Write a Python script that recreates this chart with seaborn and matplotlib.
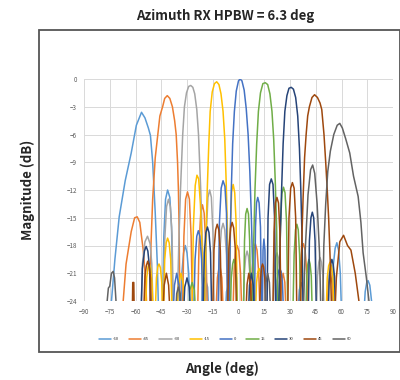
import pandas as pd
import seaborn as sns
import matplotlib.pyplot as plt
from matplotlib.patches import Rectangle

# beam steering angles and Excel-like colours
beams = ["-60", "-45", "-30", "-15", "0", "15", "30", "45", "60"]
colors = ["#5B9BD5", "#ED7D31", "#A5A5A5", "#FFC000", "#4472C4",
          "#70AD47", "#264478", "#9E480E", "#636363"]

ang_m60 = [-76, -74, -72, -69.5, -66, -62.5, -59.5, -56.5, -54.5, -52.5, -51.3, -50, -48.5, -47.3, -46.3,
           -44.5, -43.5, -42.5, -41.3, -40, -39, -38,
           -34, -33, -32, -31, -30, -29, -28,
           -22, -21, -19.5, -18, -17,
           -8, -7, -6, -5, -4,
           54, 55.3, 56.3, 57.3, 58.3, 59.3, 60.3,
           72.5, 73.8, 74.7, 75.5, 76.5, 77.5, 78.5]
db_m60 = [-30, -24, -19.5, -14.9, -11, -8, -5, -3.6, -4.2, -5.3, -6.1, -9, -14.5, -20, -27,
          -27, -17, -13, -12, -12.8, -16, -27,
          -27, -21, -18.8, -18, -18.8, -21, -27,
          -27, -22.5, -21.5, -22.5, -27,
          -27, -23, -22.3, -23, -27,
          -27, -20, -18.3, -17.7, -18.5, -21, -27,
          -27, -23, -22, -21.8, -22.3, -24, -28]

ang_m45 = [-68, -65.5, -62.5, -60.5, -59, -57.5, -55.5, -54, -53,
           -52, -51, -50, -48.5, -47, -45.8, -44.2, -43, -41.5, -40, -38.5, -37.2, -36.3, -35.5, -35, -34.6, -34,
           -32.8, -31.8, -30.8, -29.7, -28.6, -27.6, -26.6,
           -24, -23, -22, -21, -20, -19, -18,
           -13.5, -12.3, -11, -9.7, -8.5,
           -3.5, -2.5, -1.6, -0.8, 0.2, 1.2, 2.2,
           7, 8, 9, 9.8, 10.8, 11.8, 12.8,
           24, 25, 26, 27, 28,
           35, 36, 37, 37.8, 38.8, 39.8, 40.8,
           51, 52.3, 53.5, 54.7, 56]
db_m45 = [-26, -20, -16.5, -15, -14.9, -15.5, -18.5, -22, -27,
          -27, -18, -13, -8.5, -6, -4, -3, -2.1, -1.8, -2.1, -3, -4.5, -6, -9, -12, -16, -27,
          -27, -17, -13, -12.2, -13, -17, -27,
          -27, -18, -14.5, -13.6, -14.5, -18, -27,
          -27, -21.5, -20, -21.5, -27,
          -27, -20.5, -18.5, -18, -18.6, -21, -27,
          -27, -20.5, -18.3, -17.8, -18.5, -21, -27,
          -27, -22, -21, -22, -27,
          -27, -20.5, -18.3, -17.8, -18.5, -21, -27,
          -27, -22.3, -21, -22.3, -27]

ang_m30 = [-57, -56, -54.5, -53, -51.5, -50.5, -49.5,
           -44, -43, -41.9, -40.8, -39.7, -38.7, -37.8,
           -36, -34.8, -33.8, -32.5, -31.5, -30.3, -29, -27.8, -26.6, -25.5, -24.3, -23.3, -22, -21, -20,
           -19.5, -18.7, -17.8, -16.8, -15.8, -14.9, -14,
           -12, -11, -10, -9, -8, -7, -6,
           2.5, 3.4, 4.2, 5, 5.8, 6.6, 7.5,
           19.8, 20.7, 21.6, 22.4, 23.2, 24.1, 25,
           45, 46, 46.8, 47.5, 48.3, 49.2, 50.2]
db_m30 = [-27, -20, -17.6, -17, -17.8, -20, -27,
          -27, -17.5, -13.8, -13, -13.8, -17, -27,
          -27, -18, -12, -6, -3, -1.5, -0.8, -0.7, -0.9, -1.6, -3.3, -6, -12, -18, -27,
          -27, -16.5, -12.8, -12, -12.8, -16.5, -27,
          -27, -19, -16.3, -15.6, -16.3, -19, -27,
          -27, -21, -19.2, -18.6, -19.2, -21, -27,
          -27, -21, -19.3, -18.8, -19.3, -21, -27,
          -27, -21.3, -19.8, -19.3, -19.8, -21.3, -27]

ang_m15 = [-54.5, -53.5, -52.7, -52, -51.2, -50.4, -49.5,
           -48.8, -47.8, -47, -46.3, -45.5, -44.7, -43.9,
           -43.8, -43, -42.1, -41.3, -40.4, -39.5, -38.5,
           -36, -35, -33.5, -32, -31,
           -27.2, -26.3, -25.2, -24.2, -23.2, -22.2, -21.3, -20.6,
           -20, -19.2, -18.3, -17.3, -16.5, -15.3, -14, -12.7, -11.4, -10.2, -9, -8, -7.2, -6.5, -5.8,
           -5.4, -4.7, -4, -3.1, -2.2, -1.4, -0.6,
           9.5, 10.5, 11.3, 12, 12.8, 13.6, 14.5,
           50.8, 51.7, 52.5, 53.3, 54.1, 55, 56]
db_m15 = [-27, -21.5, -20.3, -20, -20.4, -22, -27,
          -27, -21.5, -20.3, -20, -20.4, -22, -27,
          -27, -19.5, -17.7, -17.2, -17.7, -19.5, -27,
          -27, -22.3, -21, -22.3, -27,
          -27, -16, -11.5, -10.4, -10.8, -13.5, -18, -27,
          -27, -19, -12.5, -7, -3.5, -1.4, -0.5, -0.3, -0.6, -1.6, -3.5, -6.5, -11, -16, -27,
          -27, -16, -12.2, -11.4, -12.3, -15.5, -27,
          -27, -22, -20.8, -20.5, -20.9, -22, -27,
          -27, -21.5, -20.2, -19.8, -20.2, -21.5, -27]

ang_0 = [-38.5, -37.3, -36, -34.7, -33.5,
         -26.3, -25.3, -24.3, -23.4, -22.5, -21.5, -20.5,
         -12, -11.1, -10.1, -9, -7.9, -7, -6.2,
         -5.5, -4.8, -4.2, -3.4, -2.4, -1.3, 0, 0.9, 2, 3.3, 4.5, 5.6, 6.6, 7.5, 8.2, 8.8,
         9.1, 9.9, 10.5, 11.2, 12, 12.8, 13.6,
         13.8, 14.3, 14.8, 15.4, 16,
         21.5, 22.5, 23.3, 24, 24.8, 25.6, 26.5,
         34.5, 35.5, 36.5, 37.5, 38.5]
db_0 = [-27, -22.3, -21, -22.3, -27,
        -27, -19.5, -17, -16.4, -17, -19.5, -27,
        -27, -15.5, -11.8, -11, -11.6, -14.5, -27,
        -27, -17, -12, -7, -3.5, -1.3, -0.2, 0, -0.2, -1.2, -3.2, -6, -10, -15, -20, -27,
        -27, -16, -13.4, -12.8, -13.4, -16, -27,
        -27, -18.5, -17.3, -18.5, -27,
        -27, -21.8, -20.8, -20.5, -20.8, -22, -27,
        -27, -22.8, -22, -22.8, -27]

ang_15 = [-29.5, -28.3, -27, -25.7, -24.5,
          -5, -4.2, -3.4, -2.7, -2, -1.2, -0.4,
          2.8, 3.5, 4.2, 5, 5.8, 6.5, 7.2,
          8, 8.8, 9.6, 10.6, 11.6, 12.8, 14.2, 15.6, 17, 18.3, 19.5, 20.5, 21.4, 22.2, 23,
          23.6, 24.4, 25.3, 26.2, 27.1, 28, 28.8,
          31.5, 32.4, 33.2, 34, 34.8, 35.6, 36.5,
          39, 39.8, 40.4, 41, 41.7, 42.4, 43.2]
db_15 = [-27, -22.8, -22, -22.8, -27,
         -27, -21.5, -20, -19.5, -20, -21.5, -27,
         -27, -17.5, -14.6, -14, -14.6, -17.5, -27,
         -27, -18, -12, -7, -3.5, -1.5, -0.5, -0.4, -0.6, -1.6, -3.5, -6.5, -11, -16, -27,
         -27, -16, -12.4, -11.7, -12.3, -15.5, -27,
         -27, -19, -16.3, -15.7, -16.3, -19, -27,
         -27, -21.3, -20, -19.5, -20, -21.3, -27]

ang_30 = [-57, -56, -54.8, -53.8, -52.8, -51.8, -50.8,
          -32.5, -31.3, -30, -28.7, -27.5,
          -20.8, -19.9, -19, -18.1, -17.2, -16.3, -15.4,
          5.5, 6.4, 7.5, 8.6, 9.5,
          16.5, 17.2, 18.1, 19.1, 20.1, 21, 21.8,
          23.2, 24.2, 25.1, 26, 27, 28.2, 29.4, 30.7, 32, 33.3, 34.5, 35.5, 36.3, 37, 37.8,
          40.5, 41.3, 42.2, 43, 43.8, 44.6, 45.5,
          52, 52.9, 53.7, 54.4, 55.1, 55.9, 56.8]
db_30 = [-27, -20.5, -18.6, -18.1, -18.6, -20.5, -27,
         -27, -22.5, -21.5, -22.5, -27,
         -27, -18.8, -16.6, -16, -16.6, -18.8, -27,
         -27, -22.3, -21, -22.3, -27,
         -27, -15, -11.4, -10.8, -11.4, -15, -27,
         -27, -18, -12, -7, -3.5, -1.8, -1, -0.9, -1.1, -2, -4, -7.5, -12, -17, -27,
         -27, -17.5, -15, -14.4, -15, -17.5, -27,
         -27, -21.3, -20, -19.5, -20, -21.3, -27]

ang_45 = [-62, -61.6, -61, -60.6,
          -55.5, -54.5, -53.7, -52.9, -52.1, -51.3, -50.5,
          -44.5, -43.3, -42, -40.7, -39.5,
          -15.2, -14.3, -13.3, -12.4, -11.5, -10.6, -9.7,
          -6.5, -5.6, -4.6, -3.7, -2.8, -1.9, -1,
          4, 5, 6, 7, 8,
          12, 12.9, 13.5, 14, 14.6, 15.3, 16.2,
          19.9, 20.7, 21.5, 22.4, 23.3, 24.1, 24.9,
          28.6, 29.4, 30.4, 31.4, 32.4, 33.3, 34.1,
          36, 36.8, 37.6, 38.5, 39.4, 40.3, 41.3, 42.8, 44.3, 46, 47.5, 48.5, 49.8, 50.8, 51.7, 52.5, 53.5, 54.5,
          55.8, 57, 59, 61.2, 63.5, 65.5, 68, 70.5, 71.5]
db_45 = [-27, -22, -22, -27,
         -27, -21.3, -20.2, -19.7, -20.2, -21.5, -27,
         -27, -22.3, -21, -22.3, -27,
         -27, -18.5, -16.3, -15.7, -16.3, -18.5, -27,
         -27, -18.3, -16.1, -15.5, -16.1, -18.3, -27,
         -27, -22.2, -21, -22.2, -27,
         -27, -21.5, -20.3, -20, -20.3, -21.5, -27,
         -27, -16.5, -13.4, -12.8, -13.4, -16.5, -27,
         -27, -15, -11.8, -11.2, -11.8, -15, -27,
         -27, -18, -13, -8.5, -6, -4, -3, -2, -1.7, -2, -2.6, -3.3, -6, -9, -12, -15, -20, -27,
         -27, -21.5, -17.6, -16.9, -18, -18.5, -21, -24.5, -28]

ang_60 = [-77.5, -76.5, -75.8, -75, -74, -73, -72.2, -71.2, -70.5,
          -37, -36, -35, -34, -33,
          15, 16, 17, 18, 19,
          37.5, 38.8, 40.5, 42, 43.2, 44.4, 45.8, 47.2, 48.2,
          48.8, 49.7, 50.8, 52, 53.5, 55.5, 57.5, 59, 60.5, 62.5, 64.8, 67, 69.7, 71.3, 72.6, 74.5, 76, 77]
db_60 = [-28, -24, -22.6, -22.4, -21, -20.8, -21.5, -24.5, -28,
         -27, -23.2, -22.5, -23.2, -27,
         -27, -22, -21, -22, -27,
         -27, -18.8, -12.5, -9.8, -9.3, -10.2, -13.5, -18.8, -27,
         -27, -18, -13.5, -10, -7.8, -6, -5, -4.8, -5.3, -6.5, -8, -10.5, -12.7, -15.5, -18.8, -21.5, -24, -28]

all_ang = [ang_m60, ang_m45, ang_m30, ang_m15, ang_0, ang_15, ang_30, ang_45, ang_60]
all_db = [db_m60, db_m45, db_m30, db_m15, db_0, db_15, db_30, db_45, db_60]

x_ticks = list(range(-90, 91, 15))
y_ticks = list(range(-24, 1, 3))

frames = []
for b, a, d in zip(beams, all_ang, all_db):
    frames.append(pd.DataFrame({"angle": a, "mag": d, "beam": b}))
df = pd.concat(frames, ignore_index=True)

sns.set_style("whitegrid")
plt.rcParams['font.family'] = ['Noto Sans CJK JP', 'DejaVu Sans']

fig = plt.figure(figsize=(4, 3.8), dpi=100)
ax = fig.add_axes([84 / 400, 1 - 301 / 380, 309 / 400, 222 / 380])

sns.lineplot(data=df, x="angle", y="mag", hue="beam", hue_order=beams,
             palette=colors, estimator=None, sort=False, linewidth=1.1,
             legend=False, ax=ax)

ax.set_xlim(-90, 90)
ax.set_ylim(-24, 0)
ax.set_xticks(x_ticks)
ax.set_yticks(y_ticks)
ax.tick_params(labelsize=4.5, colors="#595959", length=0, pad=5)
ax.grid(True, color="#D9D9D9", linewidth=0.7)
for s in ax.spines.values():
    s.set_visible(False)
ax.set_xlabel("")
ax.set_ylabel("")

# outer chart frame
fig.patches.append(Rectangle((39 / 400, 1 - 352 / 380), 361 / 400, 322 / 380,
                             transform=fig.transFigure, fill=False,
                             edgecolor="#555555", linewidth=1.3))

fig.legend(ax.get_lines()[:9], beams, loc="center",
           bbox_to_anchor=(225 / 400, 1 - 339 / 380), ncol=9, fontsize=3,
           frameon=False, handlelength=3, columnspacing=2.4, handletextpad=0.4)

fig.text(225 / 400, 1 - 16 / 380, "Azimuth RX HPBW = 6.3 deg", ha="center", va="center",
         fontsize=9.5, fontweight="bold")
fig.text(28 / 400, 1 - 190 / 380, "Magnitude (dB)", ha="center", va="center",
         rotation=90, fontsize=9.5, fontweight="bold")
fig.text(222 / 400, 1 - 369 / 380, "Angle (deg)", ha="center", va="center",
         fontsize=9.5, fontweight="bold")

fig.savefig("out.png", dpi=100)
